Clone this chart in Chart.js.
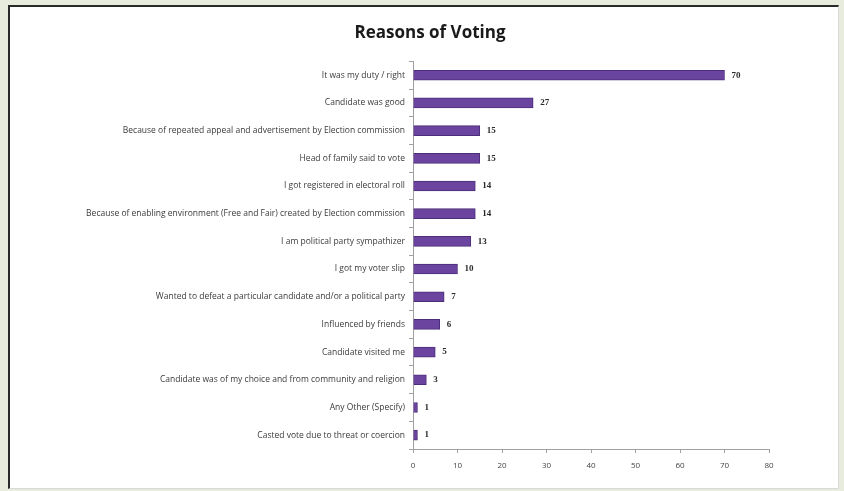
<!DOCTYPE html>
<html>
<head>
<meta charset="utf-8">
<script src="https://cdn.jsdelivr.net/npm/chart.js@4/dist/chart.umd.min.js"></script>
<style>
  html, body { margin:0; padding:0; background:#e8ecdc; width:844px; height:491px; overflow:hidden; }
  #box { position:absolute; left:8px; top:5px; width:828px; height:481px; background:#fff;
         border-left:2px solid #2a2a2a; border-top:2px solid #2a2a2a; border-right:1px solid #d8d8d8; border-bottom:1px solid #d8d8d8; }
  #wrap { position:absolute; left:0; top:0; width:828px; height:481px; }
</style>
</head>
<body>
<div id="box"><div id="wrap"><canvas id="c"></canvas></div></div>
<script>
const categories = [
  "It was my duty / right",
  "Candidate was good",
  "Because of repeated appeal and advertisement by Election commission",
  "Head of family said to vote",
  "I got registered in electoral roll",
  "Because of enabling environment (Free and Fair) created by Election commission",
  "I am political party sympathizer",
  "I got my voter slip",
  "Wanted to defeat a particular candidate and/or a political party",
  "Influenced by friends",
  "Candidate visited me",
  "Candidate was of my choice and from community and religion",
  "Any Other (Specify)",
  "Casted vote due to threat or coercion"
];
const values = [70, 27, 15, 15, 14, 14, 13, 10, 7, 6, 5, 3, 1, 1];
const xTicks = [0, 10, 20, 30, 40, 50, 60, 70, 80];
const chartTitle = "Reasons of Voting";

const valueLabels = {
  id: 'valueLabels',
  afterDatasetsDraw(chart) {
    const ctx = chart.ctx;
    const meta = chart.getDatasetMeta(0);
    ctx.save();
    ctx.font = 'bold 9px "Liberation Serif"';
    ctx.fillStyle = '#2a2a2a';
    ctx.textAlign = 'left';
    ctx.textBaseline = 'middle';
    meta.data.forEach((bar, i) => {
      ctx.fillText(String(values[i]), bar.x + 7, bar.y);
    });
    ctx.restore();
  }
};

const titleShift = {
  id: 'titleShift',
  afterLayout(chart) {
    const tb = chart.titleBlock;
    if (!tb) return;
    const target = 420;
    const cur = (tb.left + tb.right) / 2;
    const d = target - cur;
    tb.left += d; tb.right += d;
  }
};

new Chart(document.getElementById('c'), {
  type: 'bar',
  data: {
    labels: categories,
    datasets: [{
      data: values,
      backgroundColor: '#6a449f',
      borderColor: '#4b2d78',
      borderWidth: 1,
      barThickness: 10
    }]
  },
  options: {
    indexAxis: 'y',
    responsive: true,
    maintainAspectRatio: false,
    animation: false,
    layout: { padding: { left: 30, right: 69, top: 0, bottom: 0 } },
    plugins: {
      legend: { display: false },
      tooltip: { enabled: false },
      title: {
        display: true,
        text: chartTitle,
        color: '#1a1a1a',
        font: { family: 'Open Sans', size: 17, weight: 'bold' },
        padding: { top: 16, bottom: 18 }
      }
    },
    scales: {
      x: {
        min: 0, max: 80,
        afterBuildTicks(scale) { scale.ticks = xTicks.map(v => ({ value: v })); },
        afterFit(scale) { scale.height = 39; },
        grid: { drawOnChartArea: false, drawTicks: true, tickLength: 4, color: '#a0a0a0' },
        border: { color: '#a0a0a0' },
        ticks: { color: '#444', padding: 8, font: { family: 'Open Sans', size: 8 } }
      },
      y: {
        afterFit(scale) { scale.width = 373; },
        grid: { drawOnChartArea: false, drawTicks: true, tickLength: 4, color: '#a0a0a0', offset: true },
        border: { color: '#a0a0a0' },
        ticks: { color: '#3a3a3a', padding: 4, autoSkip: false, font: { family: 'Open Sans', size: 8.5 } }
      }
    }
  },
  plugins: [valueLabels, titleShift]
});
</script>
</body>
</html>
